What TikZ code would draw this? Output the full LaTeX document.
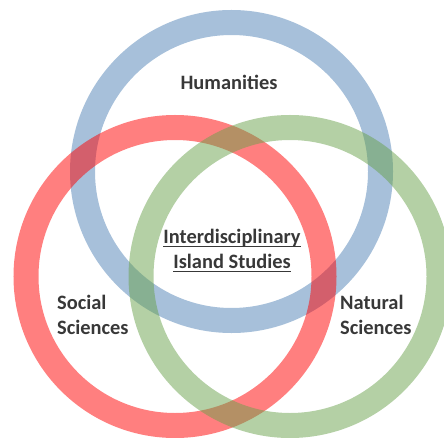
\documentclass[tikz,border=0pt]{standalone}
\usepackage{fontspec}
\setmainfont{Carlito}
% underline drawn as a rule of fixed weight below the baseline
\newcommand\undertext[1]{\setbox0\hbox{#1}\copy0\llap{\rule[-3.5bp]{\wd0}{1.6bp}}}
\begin{document}
\definecolor{ringblue}{RGB}{79,129,181}
\definecolor{ringred}{RGB}{255,0,0}
\definecolor{ringgreen}{RGB}{105,161,75}
\definecolor{labelgray}{RGB}{56,56,56}
\begin{tikzpicture}[x=1bp,y=-1bp,
  ring/.style={line width=25bp, draw opacity=0.5},
  label/.style={font=\bfseries\fontsize{20.5}{25}\selectfont, text=labelgray, inner sep=0pt}]
  \useasboundingbox (0,0) rectangle (444,438);
  % the three discipline rings
  \draw[ring, draw=ringblue]  (231.5,171.5) circle[radius=149];
  \draw[ring, draw=ringred]   (175,276.5)   circle[radius=149];
  \draw[ring, draw=ringgreen] (290,276.5)   circle[radius=149];
  % labels
  \node[label] (hum) at (229,82) {Humanities};
  \node[label, align=center] (core) at (232,251) {\undertext{Interdisciplinary}\\\undertext{Island Studies}};
  \node[label, align=left, anchor=west] (soc) at (57,315) {Social\\Sciences};
  \node[label, align=left, anchor=west] (nat) at (340,315) {Natural\\Sciences};
\end{tikzpicture}
\end{document}
